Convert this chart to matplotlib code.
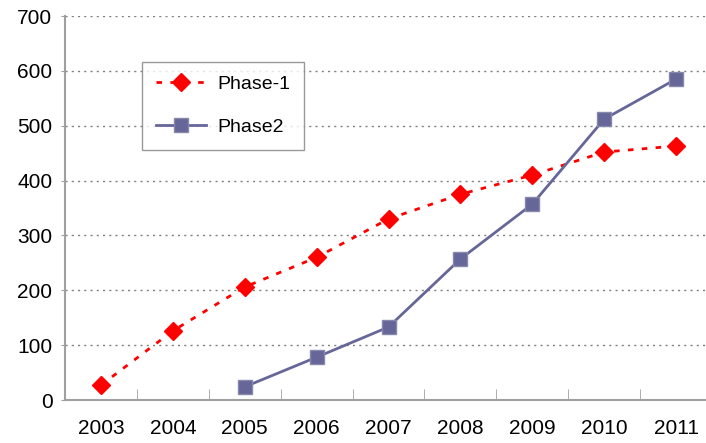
import matplotlib

matplotlib.use("Agg")
import matplotlib.pyplot as plt
import matplotlib.ticker as mticker
from matplotlib import font_manager

years = ["2003", "2004", "2005", "2006", "2007", "2008", "2009", "2010", "2011"]
phase1 = [27, 126, 206, 260, 330, 375, 410, 452, 463]
phase2_years = ["2005", "2006", "2007", "2008", "2009", "2010", "2011"]
phase2 = [24, 78, 133, 257, 357, 512, 585]

names = {f.name for f in font_manager.fontManager.ttflist}
family = "Liberation Sans Narrow" if "Liberation Sans Narrow" in names else "Liberation Sans"
plt.rcParams["font.family"] = [family, "DejaVu Sans"]

fig = plt.figure(figsize=(7.06, 4.43), dpi=100)
ax = fig.add_axes([65 / 706, 43 / 443, 647 / 706, 384 / 443])

x1 = [years.index(y) for y in years]
x2 = [years.index(y) for y in phase2_years]

ax.plot(x1, phase1, color="#ff0000", linestyle=(0, (2, 3)), linewidth=2,
        marker="D", markersize=9, markeredgecolor="#ff0000", label="Phase-1")
ax.plot(x2, phase2, color="#666699", linewidth=2,
        marker="s", markersize=10, markeredgecolor="#8888aa", label="Phase2")

ax.set_xlim(-0.5, len(years) - 0.5)
ax.set_ylim(0, 700)
ax.yaxis.set_major_locator(mticker.MultipleLocator(100))
ax.set_xticks(range(len(years)))
ax.set_xticklabels(years)
ax.set_xticks([i + 0.5 for i in range(len(years) - 1)], minor=True)
ax.tick_params(axis="x", which="major", length=0, pad=14, labelsize=15)
ax.tick_params(axis="x", which="minor", direction="in", length=8, color="#a0a0a0")
ax.tick_params(axis="y", direction="out", length=3, color="#a0a0a0", labelsize=15, pad=6)

ax.grid(True, axis="y", color="#808080", linestyle=(0, (1.5, 3)), linewidth=1)
for side in ("top", "right"):
    ax.spines[side].set_visible(False)
for side in ("left", "bottom"):
    ax.spines[side].set_color("#a0a0a0")
    ax.spines[side].set_linewidth(1.5)

leg = ax.legend(loc="upper left", bbox_to_anchor=(77 / 647, 338 / 384), borderaxespad=0,
                frameon=True, fancybox=False, edgecolor="#808080", fontsize=14,
                handlelength=2.6, handletextpad=0.6, labelspacing=1.3, borderpad=0.7)
leg.get_frame().set_linewidth(1)

fig.savefig("out.png", dpi=100)
